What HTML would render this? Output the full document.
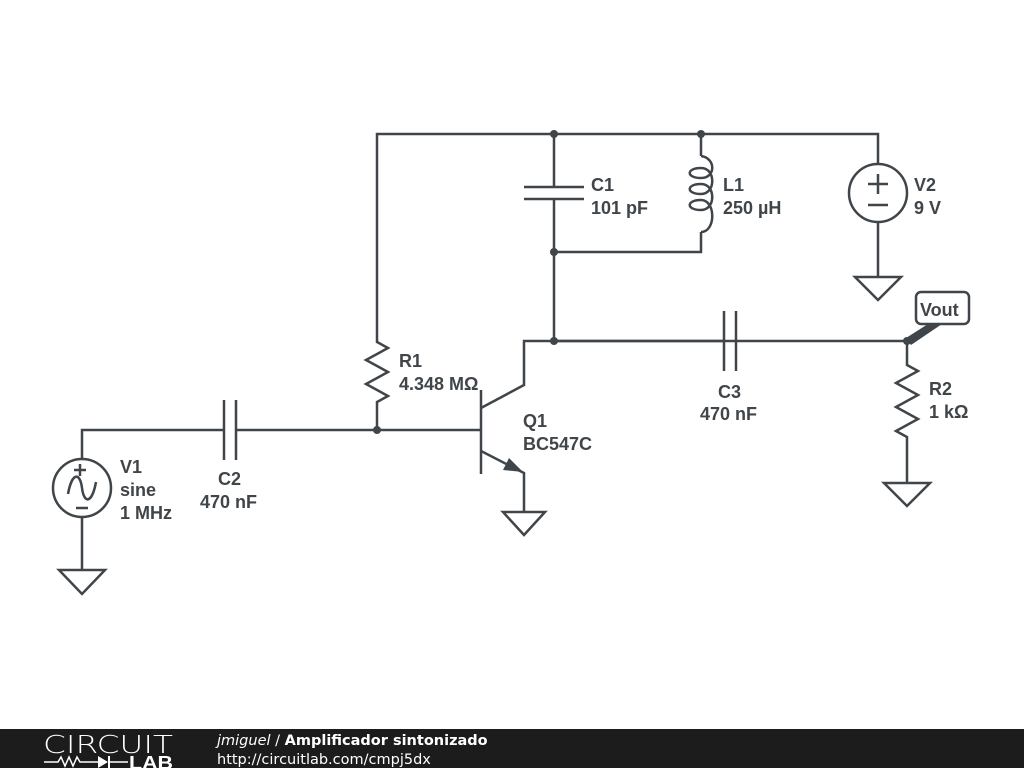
<!DOCTYPE html>
<html><head><meta charset="utf-8"><style>
body{margin:0;width:1024px;height:768px;background:#fff;overflow:hidden;font-family:"Liberation Sans",sans-serif}
svg{position:absolute;left:0;top:0}
</style></head><body>
<svg width="1024" height="768" viewBox="0 0 1024 768">
<g stroke="#404549" stroke-width="2.5" fill="none" stroke-linejoin="miter">
<polyline points="377,335 377,134 878,134 878,164"/>
<line x1="554" y1="134" x2="554" y2="187"/>
<line x1="554" y1="199" x2="554" y2="341"/>
<line x1="524" y1="187" x2="584" y2="187"/>
<line x1="524" y1="199" x2="584" y2="199"/>
<polyline points="701,134 701,156"/>
<path d="M701,156 C716,158 716,178 701,178 C686,178 686,168 701,168 C716,168 716,194 701,194 C686,194 686,184 701,184 C716,184 716,210 701,210 C686,210 686,200 701,200 C716,200 716,232 701,232"/>
<polyline points="701,232 701,252 554,252"/>
<circle cx="878" cy="193" r="29"/>
<line x1="868" y1="184" x2="888" y2="184"/><line x1="878" y1="174" x2="878" y2="194"/>
<line x1="868" y1="205" x2="888" y2="205"/>
<line x1="878" y1="222" x2="878" y2="277"/>
<polygon points="855,277 901,277 878,300"/>
<polyline points="377,335 377,342 388,348 366,360 388,372 366,384 388,396 377,402 377,430"/>
<polyline points="82,459 82,430 224,430"/>
<line x1="224" y1="400" x2="224" y2="460"/>
<line x1="236" y1="400" x2="236" y2="460"/>
<line x1="236" y1="430" x2="481" y2="430"/>
<line x1="481" y1="390" x2="481" y2="474"/>
<polyline points="481,408 524,385 524,341 736,341"/>
<polyline points="481,451 520,471 524,473 524,512"/>
<polygon points="503,512 545,512 524,535"/>
<line x1="724" y1="311" x2="724" y2="371"/>
<line x1="736" y1="311" x2="736" y2="371"/>
<polyline points="724,341 554,341"/>
<polyline points="736,341 907,341 907,365 918,371 896,383 918,395 896,407 918,419 896,431 907,437 907,483"/>
<polygon points="884,483 930,483 907,506"/>
<circle cx="82" cy="488" r="29"/>
<line x1="74" y1="470" x2="86" y2="470"/><line x1="80" y1="464" x2="80" y2="476"/>
<line x1="76" y1="508" x2="88" y2="508"/>
<path d="M68,494 C72,472 80,472 82,488 C84,504 92,504 96,482"/>
<line x1="82" y1="517" x2="82" y2="570"/>
<polygon points="59,570 105,570 82,594"/>
<rect x="916" y="292" width="53" height="32" rx="5" fill="#fff"/>
</g>
<polygon points="523,472 503,470 509,458" fill="#404549"/>
<polygon points="906,338 911,345 942,324 928,324" fill="#404549"/>
<g fill="#404549">
<circle cx="554" cy="134" r="4"/><circle cx="701" cy="134" r="4"/>
<circle cx="554" cy="252" r="4"/><circle cx="554" cy="341" r="4"/>
<circle cx="377" cy="430" r="4"/><circle cx="907" cy="341" r="4"/>
</g>
<g font-family="Liberation Sans, sans-serif" font-weight="bold" font-size="18" fill="#404549">
<text x="591" y="191">C1</text><text x="591" y="214">101 pF</text>
<text x="723" y="191">L1</text><text x="723" y="214">250 µH</text>
<text x="914" y="191">V2</text><text x="914" y="214">9 V</text>
<text x="920" y="316">Vout</text>
<text x="399" y="367">R1</text><text x="399" y="390">4.348 MΩ</text>
<text x="523" y="427">Q1</text><text x="523" y="450">BC547C</text>
<text x="718" y="398">C3</text><text x="700" y="420">470 nF</text>
<text x="929" y="395">R2</text><text x="929" y="418">1 kΩ</text>
<text x="120" y="473">V1</text><text x="120" y="496">sine</text><text x="120" y="519">1 MHz</text>
<text x="218" y="485">C2</text><text x="200" y="508">470 nF</text>
</g>
<rect x="0" y="729" width="1024" height="39" fill="#1c1c1c"/>
<text x="43" y="753" font-family="DejaVu Sans" font-size="25" fill="#fff" textLength="130" lengthAdjust="spacingAndGlyphs" font-weight="200">CIRCUIT</text>
<polyline points="44,762 58,762 61,757 65,766 69,757 73,766 77,757 80,762 98,762" stroke="#fff" stroke-width="1.5" fill="none"/>
<polygon points="98,756 98,768 108,762" fill="#fff"/><line x1="109" y1="756" x2="109" y2="768" stroke="#fff" stroke-width="2"/>
<line x1="109" y1="762" x2="128" y2="762" stroke="#fff" stroke-width="1.5"/>
<text x="129" y="769" font-family="Liberation Sans" font-weight="bold" font-size="18" fill="#fff" textLength="44" lengthAdjust="spacingAndGlyphs">LAB</text>
<text x="217" y="745" font-family="DejaVu Sans" font-size="14.5" fill="#fff"><tspan font-style="italic">jmiguel</tspan> / <tspan font-weight="bold">Amplificador sintonizado</tspan></text>
<text x="217" y="764" font-family="DejaVu Sans" font-size="14.5" fill="#fff">http://circuitlab.com/cmpj5dx</text>
</svg>
</body></html>
